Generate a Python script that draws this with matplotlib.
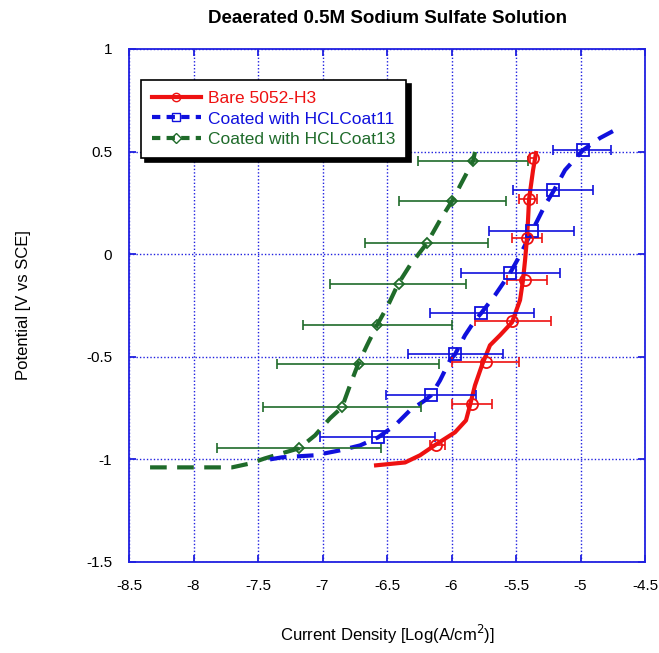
import numpy as np
import matplotlib
matplotlib.use('Agg')
import matplotlib.pyplot as plt
from matplotlib.lines import Line2D

plt.rcParams['font.family'] = ['Liberation Sans', 'DejaVu Sans']

# polarization curves: log current density vs potential
bare_x = [-6.585, -6.360, -6.244, -6.120, -5.973, -5.888, -5.857, -5.818, -5.764, -5.702,
          -5.624, -5.531, -5.469, -5.446, -5.430, -5.415, -5.407, -5.399, -5.368, -5.345]
bare_y = [-1.029, -1.015, -0.980, -0.927, -0.868, -0.810, -0.737, -0.639, -0.541, -0.444,
          -0.395, -0.332, -0.224, -0.127, -0.029, 0.078, 0.166, 0.268, 0.410, 0.493]

coat11_x = [-7.407, -7.314, -7.058, -6.864, -6.709, -6.570, -6.438, -6.322, -6.205, -6.159,
            -6.089, -6.012, -5.973, -5.895, -5.818, -5.771, -5.663, -5.547, -5.469, -5.376,
            -5.275, -5.205, -5.120, -4.981, -4.849, -4.733]
coat11_y = [-1.000, -0.990, -0.980, -0.956, -0.932, -0.893, -0.834, -0.761, -0.712, -0.688,
            -0.615, -0.517, -0.488, -0.395, -0.322, -0.288, -0.200, -0.093, -0.005, 0.112,
            0.239, 0.312, 0.410, 0.507, 0.566, 0.605]

coat13_x = [-8.337, -7.702, -7.562, -7.446, -7.291, -7.182, -7.058, -6.942, -6.849, -6.787,
            -6.725, -6.655, -6.578, -6.492, -6.415, -6.322, -6.190, -6.089, -5.996, -5.911,
            -5.833, -5.818]
coat13_y = [-1.039, -1.039, -1.020, -0.995, -0.966, -0.946, -0.883, -0.800, -0.746, -0.639,
            -0.537, -0.444, -0.346, -0.249, -0.146, -0.054, 0.054, 0.166, 0.259, 0.361,
            0.454, 0.498]

# averaged points with horizontal error range (low, high)
bare_mx = [-5.37, -5.40, -5.415, -5.43, -5.53, -5.73, -5.84, -6.12]
bare_my = [0.47, 0.27, 0.078, -0.127, -0.327, -0.527, -0.73, -0.93]
bare_lo = [-5.39, -5.48, -5.53, -5.57, -5.82, -6.00, -6.00, -6.17]
bare_hi = [-5.35, -5.34, -5.30, -5.26, -5.23, -5.48, -5.69, -6.05]

coat11_mx = [-4.98, -5.21, -5.38, -5.55, -5.77, -5.97, -6.16, -6.57]
coat11_my = [0.507, 0.312, 0.112, -0.093, -0.288, -0.488, -0.688, -0.893]
coat11_lo = [-5.21, -5.52, -5.71, -5.93, -6.17, -6.34, -6.51, -7.02]
coat11_hi = [-4.76, -4.90, -5.05, -5.16, -5.36, -5.60, -5.81, -6.13]

coat13_mx = [-5.83, -6.00, -6.19, -6.41, -6.58, -6.72, -6.85, -7.18]
coat13_my = [0.454, 0.259, 0.054, -0.146, -0.346, -0.537, -0.746, -0.946]
coat13_lo = [-6.26, -6.41, -6.67, -6.94, -7.15, -7.35, -7.46, -7.82]
coat13_hi = [-5.41, -5.58, -5.72, -5.89, -6.00, -6.10, -6.24, -6.55]

red = '#ee1111'
blue = '#1010dd'
green = '#1f6b2a'
axis_blue = '#2020e0'

fig = plt.figure(figsize=(6.59, 6.53), dpi=100)
ax = fig.add_axes([0.1958, 0.1394, 0.7830, 0.7856])

series = [
    (coat13_x, coat13_y, coat13_mx, coat13_my, coat13_lo, coat13_hi, green, (0, (4, 2.5)), 'D', 5),
    (coat11_x, coat11_y, coat11_mx, coat11_my, coat11_lo, coat11_hi, blue, (0, (4, 2.5)), 's', 8),
    (bare_x, bare_y, bare_mx, bare_my, bare_lo, bare_hi, red, '-', 'o', 8),
]
for lx, ly, mx, my, lo, hi, col, ls, mk, ms in series:
    ax.plot(lx, ly, color=col, lw=3, ls=ls, zorder=3)
    mx = np.array(mx)
    xerr = np.vstack([mx - np.array(lo), np.array(hi) - mx])
    ax.errorbar(mx, my, xerr=xerr, fmt='none', ecolor=col, elinewidth=1.2,
                capsize=3.5, capthick=1.2, zorder=4)
    ax.plot(mx, my, ls='none', marker=mk, ms=ms, mfc='none', mec=col, mew=1.3, zorder=5)

ax.set_xlim(-8.5, -4.5)
ax.set_ylim(-1.5, 1)
ax.set_xticks(np.arange(-8.5, -4.4, 0.5))
ax.set_yticks(np.arange(-1.5, 1.01, 0.5))
ax.set_xticklabels(['-8.5', '-8', '-7.5', '-7', '-6.5', '-6', '-5.5', '-5', '-4.5'])
ax.set_yticklabels(['-1.5', '-1', '-0.5', '0', '0.5', '1'])
ax.grid(True, color=axis_blue, ls=(0, (1, 1.5)), lw=1)
for s in ax.spines.values():
    s.set_color(axis_blue)
    s.set_linewidth(1.3)
ax.tick_params(direction='in', color=axis_blue, length=5, width=1.3,
               top=True, right=True, labelsize=11, pad=12)

ax.set_xlabel('Current Density [Log(A/cm$^2$)]', fontsize=12, labelpad=22)
ax.set_ylabel('Potential [V vs SCE]', fontsize=12, labelpad=40)
ax.set_title('Deaerated 0.5M Sodium Sulfate Solution', fontsize=13.5,
             fontweight='bold', pad=19)

handles = [
    Line2D([], [], color=red, lw=3, ls='-', marker='o', ms=6, mfc='none', mec=red),
    Line2D([], [], color=blue, lw=3, ls=(0, (2, 1.5)), marker='s', ms=6, mfc='none', mec=blue),
    Line2D([], [], color=green, lw=3, ls=(0, (2, 1.5)), marker='D', ms=5, mfc='none', mec=green),
]
labels = ['Bare 5052-H3', 'Coated with HCLCoat11', 'Coated with HCLCoat13']
leg = ax.legend(handles, labels, loc='upper left', bbox_to_anchor=(0.023, 0.94),
                borderaxespad=0, fontsize=12.5, frameon=True, fancybox=False,
                shadow={'color': 'black', 'alpha': 1, 'ox': 3, 'oy': -3},
                edgecolor='black', handlelength=2.8, handletextpad=0.4,
                borderpad=0.65, labelspacing=0.3)
leg.get_frame().set_linewidth(1.2)
for txt, col in zip(leg.get_texts(), [red, blue, green]):
    txt.set_color(col)

fig.savefig('out.png', dpi=100)
